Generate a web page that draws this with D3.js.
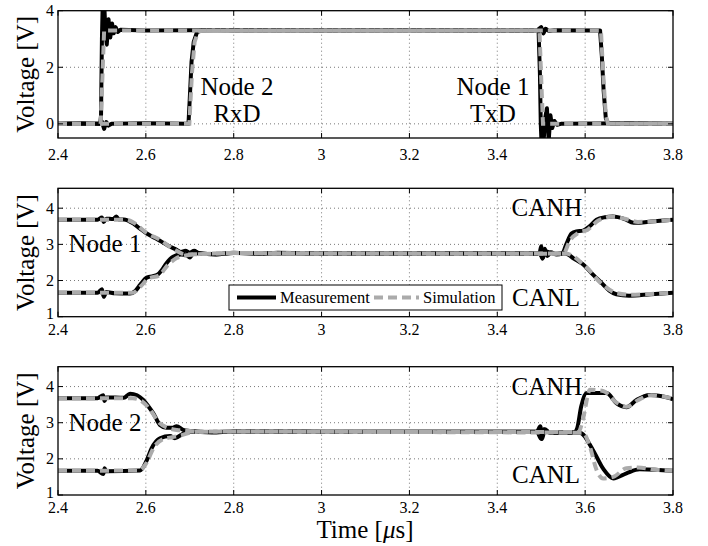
<!DOCTYPE html>
<html>
<head>
<meta charset="utf-8">
<script src="https://cdn.jsdelivr.net/npm/d3@7"></script>
</head>
<body style="margin:0">
<script>
// x axis, shared by all panels
var xTicks = [2.4, 2.6, 2.8, 3.0, 3.2, 3.4, 3.6, 3.8];
var yTicksLogic = [0, 2, 4];
var yTicksBus = [1, 2, 3, 4];

// panel 1: TxD of node 1, RxD of node 2  [time us, volt]
var txdMeas = [[2.4,0],[2.45,0.02],[2.496,0],[2.498,0.3],[2.5,3.0],[2.502,4.4],[2.505,4.3],[2.508,3.3],[2.511,2.8],[2.515,3.7],[2.519,3.05],[2.523,3.55],[2.527,3.2],[2.531,3.42],[2.536,3.25],[2.542,3.33],[2.6,3.3],[2.8,3.32],[3.0,3.3],[3.2,3.31],[3.4,3.3],[3.494,3.3],[3.497,1.8],[3.499,0],[3.501,-0.8],[3.505,-0.7],[3.509,0.2],[3.513,0.55],[3.517,-0.6],[3.521,0.3],[3.525,-0.15],[3.53,0.1],[3.536,-0.03],[3.545,0],[3.7,0.02],[3.8,0]];
var txdSim = [[2.4,0],[2.497,0],[2.501,1.6],[2.505,3.3],[3.496,3.3],[3.5,1.6],[3.504,0],[3.8,0]];
var rxdMeas = [[2.4,0],[2.496,0],[2.5,0.08],[2.505,-0.18],[2.51,0.06],[2.515,-0.06],[2.522,0],[2.6,0.02],[2.697,0],[2.7,0.9],[2.704,2.2],[2.709,2.9],[2.716,3.22],[2.726,3.32],[2.8,3.3],[3.0,3.31],[3.49,3.3],[3.5,3.42],[3.505,3.2],[3.51,3.36],[3.518,3.28],[3.53,3.31],[3.634,3.3],[3.638,2.4],[3.642,1.2],[3.647,0.2],[3.653,0],[3.8,0]];
var rxdSim = [[2.4,0],[2.699,0],[2.705,1.8],[2.711,2.9],[2.719,3.25],[2.728,3.3],[3.636,3.3],[3.641,1.8],[3.647,0.3],[3.652,0],[3.8,0]];

// panel 2: bus at node 1
var n1HMeas = [[2.4,3.68],[2.49,3.68],[2.5,3.74],[2.504,3.62],[2.51,3.71],[2.525,3.7],[2.533,3.77],[2.538,3.69],[2.55,3.69],[2.571,3.58],[2.586,3.44],[2.602,3.3],[2.617,3.2],[2.632,3.1],[2.65,2.97],[2.67,2.85],[2.68,2.79],[2.69,2.82],[2.7,2.77],[2.71,2.82],[2.72,2.76],[2.76,2.72],[2.8,2.77],[2.86,2.74],[2.9,2.77],[3.0,2.75],[3.2,2.75],[3.4,2.75],[3.49,2.74],[3.496,2.75],[3.5,2.95],[3.503,2.6],[3.508,2.88],[3.514,2.68],[3.522,2.78],[3.535,2.72],[3.548,2.75],[3.557,3.0],[3.569,3.3],[3.58,3.36],[3.595,3.38],[3.61,3.5],[3.626,3.68],[3.645,3.75],[3.663,3.77],[3.69,3.7],[3.71,3.6],[3.724,3.6],[3.75,3.63],[3.8,3.68]];
var n1HSim = [[2.4,3.68],[2.555,3.68],[2.575,3.58],[2.6,3.33],[2.63,3.14],[2.67,2.82],[2.69,2.72],[2.72,2.73],[2.8,2.76],[3.0,2.75],[3.55,2.74],[3.565,3.1],[3.585,3.32],[3.605,3.4],[3.63,3.66],[3.66,3.76],[3.69,3.71],[3.72,3.62],[3.76,3.64],[3.8,3.68]];
var n1LMeas = [[2.4,1.66],[2.49,1.66],[2.5,1.76],[2.504,1.55],[2.51,1.68],[2.53,1.65],[2.564,1.64],[2.575,1.7],[2.587,1.88],[2.602,2.08],[2.625,2.15],[2.637,2.3],[2.647,2.48],[2.662,2.66],[2.68,2.72],[2.693,2.7],[2.7,2.64],[2.71,2.8],[2.72,2.74],[2.76,2.73],[2.8,2.76],[2.9,2.75],[3.0,2.75],[3.4,2.75],[3.496,2.75],[3.503,2.62],[3.51,2.8],[3.53,2.74],[3.555,2.75],[3.575,2.6],[3.595,2.45],[3.615,2.2],[3.64,1.9],[3.655,1.72],[3.671,1.62],[3.7,1.58],[3.75,1.62],[3.8,1.66]];
var n1LSim = [[2.4,1.66],[2.57,1.66],[2.59,1.86],[2.605,2.05],[2.63,2.14],[2.65,2.43],[2.67,2.62],[2.69,2.69],[2.72,2.73],[2.8,2.76],[3.0,2.75],[3.555,2.75],[3.6,2.4],[3.64,1.88],[3.67,1.66],[3.7,1.61],[3.75,1.63],[3.8,1.66]];

// panel 3: bus at node 2
var n2HMeas = [[2.4,3.68],[2.49,3.68],[2.503,3.76],[2.506,3.6],[2.51,3.7],[2.55,3.69],[2.564,3.8],[2.58,3.76],[2.594,3.63],[2.606,3.45],[2.617,3.26],[2.632,2.94],[2.647,2.86],[2.66,2.86],[2.67,2.9],[2.685,2.8],[2.7,2.77],[2.75,2.73],[2.8,2.76],[2.9,2.76],[3.0,2.75],[3.4,2.75],[3.49,2.75],[3.498,2.9],[3.502,2.55],[3.508,2.82],[3.52,2.72],[3.576,2.74],[3.582,2.85],[3.591,3.45],[3.603,3.82],[3.649,3.82],[3.671,3.54],[3.694,3.43],[3.717,3.63],[3.747,3.77],[3.775,3.73],[3.8,3.65]];
var n2HSim = [[2.4,3.68],[2.57,3.68],[2.59,3.6],[2.61,3.36],[2.63,3.0],[2.65,2.86],[2.67,2.8],[2.69,2.78],[2.72,2.75],[2.8,2.76],[3.0,2.75],[3.585,2.74],[3.595,3.1],[3.611,3.91],[3.641,3.88],[3.671,3.56],[3.694,3.44],[3.72,3.62],[3.75,3.76],[3.8,3.67]];
var n2LMeas = [[2.4,1.67],[2.49,1.67],[2.503,1.58],[2.506,1.74],[2.51,1.66],[2.587,1.68],[2.602,1.96],[2.613,2.29],[2.632,2.57],[2.655,2.63],[2.666,2.57],[2.685,2.7],[2.7,2.76],[2.75,2.74],[2.8,2.76],[3.0,2.75],[3.49,2.75],[3.5,2.55],[3.505,2.82],[3.52,2.73],[3.588,2.72],[3.618,2.24],[3.641,1.73],[3.664,1.46],[3.694,1.6],[3.724,1.71],[3.76,1.7],[3.8,1.67]];
var n2LSim = [[2.4,1.67],[2.585,1.68],[2.6,1.86],[2.62,2.35],[2.64,2.55],[2.66,2.6],[2.68,2.65],[2.7,2.72],[2.72,2.75],[2.8,2.76],[3.0,2.75],[3.595,2.72],[3.611,2.33],[3.626,1.69],[3.641,1.46],[3.664,1.5],[3.694,1.74],[3.72,1.76],[3.76,1.7],[3.8,1.67]];

var FONT = '"Liberation Serif"';
var svg = d3.select('body').append('svg').attr('width', 708).attr('height', 546);

var x = d3.scaleLinear().domain([2.4, 3.8]).range([58, 673]);

function label(sel, size) {
  return sel.style('font-family', FONT).style('font-size', size + 'px');
}
function measStyle(sel) {
  return sel.attr('fill', 'none').attr('stroke', '#000').attr('stroke-width', 4).attr('stroke-linejoin', 'round');
}
function simStyle(sel) {
  return sel.attr('fill', 'none').attr('stroke', '#ababab').attr('stroke-width', 4).attr('stroke-dasharray', '9 5');
}

var panels = [
  { top: 10.7, bottom: 138, dom: [-0.5, 4], ticks: yTicksLogic, xlabDy: 22, curve: d3.curveLinear,
    traces: [[txdMeas, txdSim], [rxdMeas, rxdSim]],
    notes: [
      { t: 'Node 2', x: 237, y: 95 }, { t: 'RxD', x: 237, y: 122 },
      { t: 'Node 1', x: 493, y: 95 }, { t: 'TxD', x: 493, y: 122 }
    ] },
  { top: 188.3, bottom: 316.7, dom: [1, 4.55], ticks: yTicksBus, xlabDy: 18, curve: d3.curveMonotoneX,
    traces: [[n1HMeas, n1HSim], [n1LMeas, n1LSim]],
    notes: [
      { t: 'Node 1', x: 105, y: 252 }, { t: 'CANH', x: 547, y: 216 }, { t: 'CANL', x: 546, y: 306 }
    ], legend: true },
  { top: 366.7, bottom: 495, dom: [1, 4.55], ticks: yTicksBus, xlabDy: 18, curve: d3.curveMonotoneX,
    traces: [[n2HMeas, n2HSim], [n2LMeas, n2LSim]],
    notes: [
      { t: 'Node 2', x: 105, y: 431 }, { t: 'CANH', x: 547, y: 395 }, { t: 'CANL', x: 546, y: 483 }
    ] }
];

panels.forEach(function (p, i) {
  var y = d3.scaleLinear().domain(p.dom).range([p.bottom, p.top]);
  var g = svg.append('g');
  var x0 = x.range()[0], x1 = x.range()[1];

  // dotted grid
  var grid = g.append('g').attr('stroke', '#555').attr('stroke-width', 0.8).attr('stroke-dasharray', '1 3');
  grid.selectAll('.gx').data(xTicks.slice(1, -1)).enter().append('line')
    .attr('x1', d => x(d)).attr('x2', d => x(d)).attr('y1', p.top).attr('y2', p.bottom);
  grid.selectAll('.gy').data(p.ticks.filter(d => y(d) > p.top + 1 && y(d) < p.bottom - 1)).enter().append('line')
    .attr('x1', x0).attr('x2', x1).attr('y1', d => y(d)).attr('y2', d => y(d));

  // traces, measurement under simulation
  var clipId = 'clip' + i;
  svg.append('clipPath').attr('id', clipId).append('rect')
    .attr('x', x0).attr('y', p.top).attr('width', x1 - x0).attr('height', p.bottom - p.top);
  var line = d3.line().x(d => x(d[0])).y(d => y(d[1])).curve(p.curve);
  var tg = g.append('g').attr('clip-path', 'url(#' + clipId + ')');
  p.traces.forEach(function (pair) {
    measStyle(tg.append('path')).attr('d', line(pair[0]));
  });
  p.traces.forEach(function (pair) {
    simStyle(tg.append('path')).attr('d', line(pair[1]));
  });

  // inward ticks on all four sides
  var tk = g.append('g').attr('stroke', '#000').attr('stroke-width', 1);
  xTicks.forEach(function (d) {
    tk.append('line').attr('x1', x(d)).attr('x2', x(d)).attr('y1', p.bottom).attr('y2', p.bottom - 5);
    tk.append('line').attr('x1', x(d)).attr('x2', x(d)).attr('y1', p.top).attr('y2', p.top + 5);
  });
  p.ticks.forEach(function (d) {
    tk.append('line').attr('x1', x0).attr('x2', x0 + 5).attr('y1', y(d)).attr('y2', y(d));
    tk.append('line').attr('x1', x1).attr('x2', x1 - 5).attr('y1', y(d)).attr('y2', y(d));
  });

  g.append('rect').attr('fill', 'none').attr('stroke', '#000').attr('stroke-width', 1.3)
    .attr('x', x0).attr('y', p.top).attr('width', x1 - x0).attr('height', p.bottom - p.top);

  // tick labels
  label(g.selectAll('.xl').data(xTicks).enter().append('text'), 16)
    .attr('x', d => x(d)).attr('y', p.bottom + p.xlabDy)
    .attr('text-anchor', 'middle')
    .text(d => d3.format('~g')(d));
  label(g.selectAll('.yl').data(p.ticks).enter().append('text'), 16)
    .attr('x', x0 - 4).attr('y', d => y(d) - (d === 1 ? 3 : 0)).attr('dy', '0.35em')
    .attr('text-anchor', 'end')
    .text(d => d);

  label(g.append('text'), 25)
    .attr('transform', 'translate(34,' + ((p.top + p.bottom) / 2) + ') rotate(-90)')
    .attr('text-anchor', 'middle')
    .text('Voltage [V]');

  p.notes.forEach(function (n) {
    label(g.append('text'), 25).attr('x', n.x).attr('y', n.y).attr('text-anchor', 'middle').text(n.t);
  });

  if (p.legend) {
    var lg = g.append('g');
    lg.append('rect').attr('x', 229).attr('y', 285).attr('width', 273).attr('height', 25)
      .attr('fill', '#fff').attr('stroke', '#000').attr('stroke-width', 1);
    measStyle(lg.append('line')).attr('x1', 237).attr('x2', 276).attr('y1', 297.5).attr('y2', 297.5);
    label(lg.append('text'), 16.5).attr('x', 280).attr('y', 303).text('Measurement');
    simStyle(lg.append('line')).attr('x1', 374).attr('x2', 419).attr('y1', 297.5).attr('y2', 297.5);
    label(lg.append('text'), 16.5).attr('x', 423).attr('y', 303).text('Simulation');
  }
});

var tl = label(svg.append('text'), 25).attr('x', 365).attr('y', 538).attr('text-anchor', 'middle');
tl.append('tspan').text('Time [');
tl.append('tspan').style('font-style', 'italic').text('μ');
tl.append('tspan').text('s]');
</script>
</body>
</html>
